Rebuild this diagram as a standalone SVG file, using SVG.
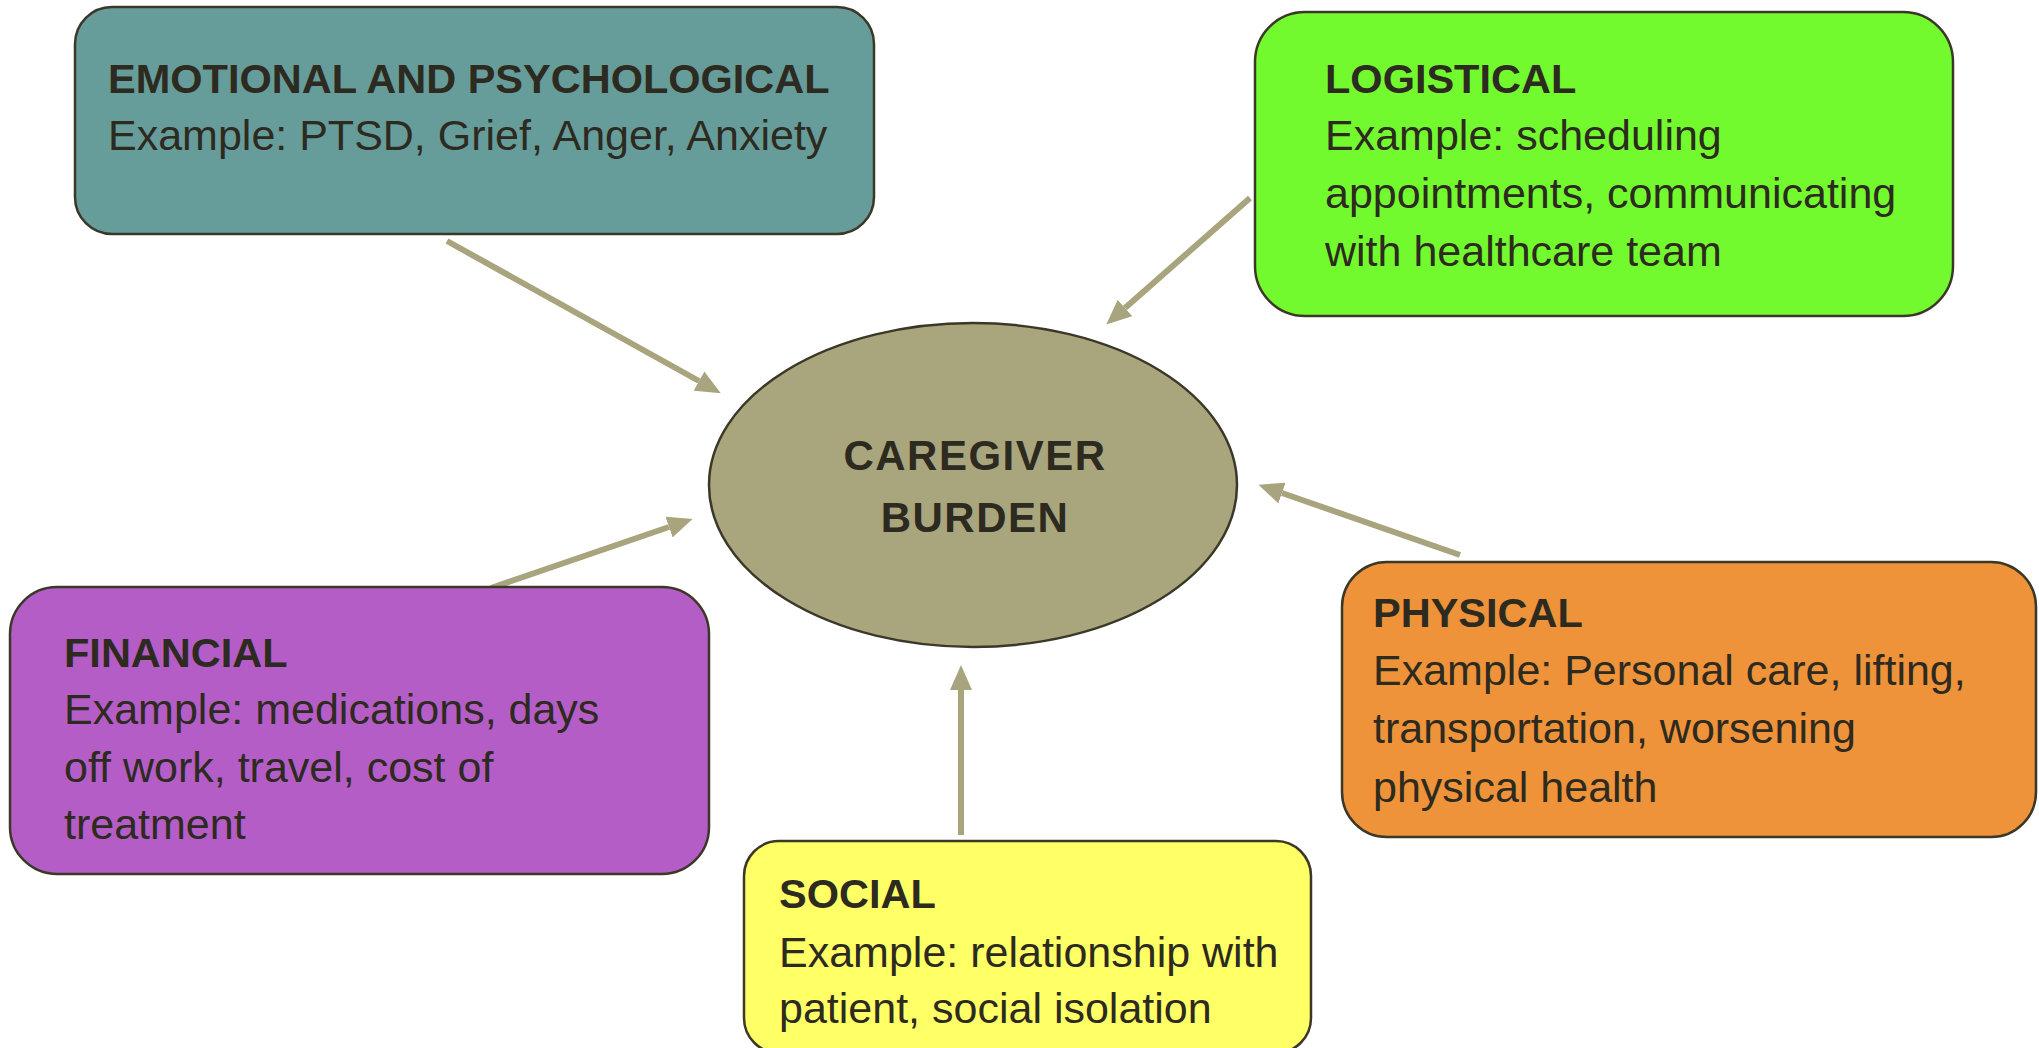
<svg xmlns="http://www.w3.org/2000/svg" width="2039" height="1048" viewBox="0 0 2039 1048">
  <defs>
    <style>
      .box { stroke: #3B3828; stroke-width: 2.5; }
      .title { font-family: "Liberation Sans", Arial, sans-serif; font-weight: bold; font-size: 41.5px; fill: #2D2A1F; }
      .body { font-family: "Liberation Sans", Arial, sans-serif; font-size: 43px; fill: #2D2A1F; }
      .center { font-family: "Liberation Sans", Arial, sans-serif; font-weight: bold; font-size: 42px; fill: #2D2A1F; letter-spacing: 1.5px; text-anchor: middle; }
      .conn { stroke: #A8A47D; stroke-width: 6; fill: none; marker-end: url(#head); }
    </style>
    <marker id="head" markerUnits="userSpaceOnUse" markerWidth="25" markerHeight="22" refX="0" refY="11" orient="auto">
      <path d="M0,0 L25,11 L0,22 z" fill="#A8A47D"/>
    </marker>
  </defs>

  <rect width="2039" height="1048" fill="#FFFFFF"/>

  <!-- connectors: each category points at the central ellipse -->
  <g id="connectors">
    <line class="conn" x1="447" y1="241" x2="699" y2="381"/>
    <line class="conn" x1="1250" y1="198" x2="1125" y2="308"/>
    <line class="conn" x1="1460" y1="555" x2="1282" y2="493"/>
    <line class="conn" x1="491" y1="588" x2="669" y2="527"/>
    <line class="conn" x1="961" y1="835" x2="961" y2="690"/>
  </g>

  <g id="caregiver-burden">
    <ellipse class="box" cx="973" cy="485" rx="264" ry="162" fill="#A9A67E"/>
    <text class="center" x="975" y="470">CAREGIVER</text>
    <text class="center" x="975" y="532">BURDEN</text>
  </g>

  <g id="emotional">
    <rect class="box" x="75" y="7" width="799" height="227" rx="37" fill="#669D9A"/>
    <text class="title" x="108" y="93">EMOTIONAL AND PSYCHOLOGICAL</text>
    <text class="body" x="108" y="150">Example: PTSD, Grief, Anger, Anxiety</text>
  </g>

  <g id="logistical">
    <rect class="box" x="1255" y="12" width="698" height="304" rx="50" fill="#72FA2F"/>
    <text class="title" x="1325" y="93">LOGISTICAL</text>
    <text class="body" x="1325" y="150">Example: scheduling</text>
    <text class="body" x="1325" y="208">appointments, communicating</text>
    <text class="body" x="1325" y="266">with healthcare team</text>
  </g>

  <g id="financial">
    <rect class="box" x="10" y="587" width="699" height="287" rx="47" fill="#B55DC7"/>
    <text class="title" x="64" y="667">FINANCIAL</text>
    <text class="body" x="64" y="724">Example: medications, days</text>
    <text class="body" x="64" y="782">off work, travel, cost of</text>
    <text class="body" x="64" y="839">treatment</text>
  </g>

  <g id="physical">
    <rect class="box" x="1342" y="562" width="694" height="275" rx="45" fill="#EE9339"/>
    <text class="title" x="1373" y="627">PHYSICAL</text>
    <text class="body" x="1373" y="685">Example: Personal care, lifting,</text>
    <text class="body" x="1373" y="743">transportation, worsening</text>
    <text class="body" x="1373" y="802">physical health</text>
  </g>

  <g id="social">
    <rect class="box" x="744" y="841" width="567" height="212" rx="35" fill="#FFFF66"/>
    <text class="title" x="779" y="908">SOCIAL</text>
    <text class="body" x="779" y="967">Example: relationship with</text>
    <text class="body" x="779" y="1023">patient, social isolation</text>
  </g>
</svg>
